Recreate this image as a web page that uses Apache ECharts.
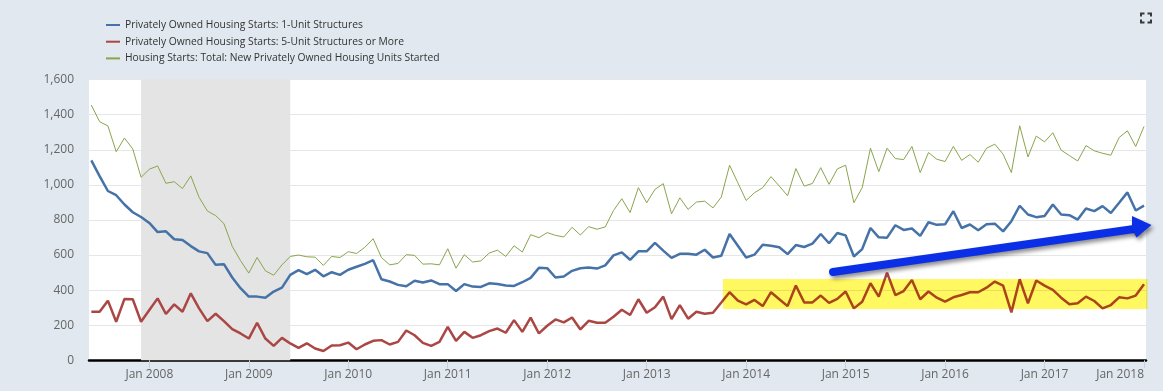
<!DOCTYPE html>
<html>
<head>
<meta charset="utf-8">
<script src="https://cdn.jsdelivr.net/npm/echarts@6/dist/echarts.min.js"></script>
<style>
html,body{margin:0;padding:0;background:#e1e8f0;}
#c{width:1163px;height:391px;}
</style>
</head>
<body>
<div id="c"></div>
<script>
// First observation: June 2007, monthly through January 2018 (thousands of units, SAAR)
const START_YEAR = 2007;
const START_MONTH = 6;

const SERIES_NAMES = [
  'Privately Owned Housing Starts: 1-Unit Structures',
  'Privately Owned Housing Starts: 5-Unit Structures or More',
  'Housing Starts: Total: New Privately Owned Housing Units Started'
];

const oneUnit = [
  1140,1050,965,941,888,844,817,783,731,735,690,686,651,621,611,544,548,472,411,
  363,363,357,392,414,487,514,491,516,479,502,487,516,533,550,571,462,449,
  430,422,453,443,455,434,434,395,434,420,418,439,435,426,424,445,470,527,
  525,472,478,510,525,529,523,541,598,615,573,621,621,669,625,584,607,607,
  602,630,586,596,720,653,586,602,659,653,644,605,657,646,665,720,667,726,
  712,592,634,754,701,699,770,743,751,709,787,772,775,850,754,774,741,775,
  779,735,793,881,831,816,823,888,831,827,802,865,850,879,840,898,957,854,882
];

const fivePlus = [
  277,277,340,220,350,348,220,287,353,264,319,277,382,296,223,265,223,178,153,
  124,214,124,82,128,96,71,97,67,53,84,86,101,63,90,111,115,90,
  105,170,143,99,82,105,191,111,162,128,143,166,181,157,229,162,243,153,
  197,233,216,244,176,225,214,214,248,288,258,348,271,302,363,235,315,237,
  277,265,271,329,388,340,319,344,309,388,348,309,426,330,330,369,327,350,
  392,296,334,439,363,500,372,395,458,348,392,357,334,359,372,388,388,414,
  449,426,273,462,325,455,426,401,357,319,325,363,338,296,315,359,353,369,434
];

const total = [
  1455,1360,1336,1189,1267,1205,1043,1089,1108,1009,1018,979,1051,929,851,825,779,650,568,
  497,586,510,485,544,592,600,590,588,541,592,586,619,609,644,693,586,544,
  552,602,598,548,550,544,636,525,602,560,567,611,628,592,653,617,716,699,
  728,712,703,758,714,762,747,760,854,921,842,984,898,974,1007,835,926,860,
  902,907,869,930,1112,1012,911,955,984,1047,993,938,1093,993,1008,1098,1003,1091,
  1112,898,984,1209,1075,1209,1150,1144,1219,1070,1184,1146,1133,1219,1140,1173,1129,1209,
  1232,1175,1070,1337,1159,1278,1245,1297,1198,1167,1136,1224,1194,1180,1169,1270,1308,1219,1333
];

const TICK_LABELS = ['Jan 2008','Jan 2009','Jan 2010','Jan 2011','Jan 2012','Jan 2013',
  'Jan 2014','Jan 2015','Jan 2016','Jan 2017','Jan 2018'];

const RECESSION = ['2007-12', '2009-06'];
// highlighted band (yellow box), in axis units: start month position and value range
const HIGHLIGHT = { fromMonth: 76.2, low: 292, high: 463 };

const COLORS = ['#4572A7', '#AA4643', '#89A54E'];

const months = oneUnit.map((_, i) => {
  const m = START_MONTH - 1 + i;
  return (START_YEAR + Math.floor(m / 12)) + '-' + String(m % 12 + 1).padStart(2, '0');
});
const idx = s => months.indexOf(s);
const tickIdx = TICK_LABELS.map(l => idx(l.slice(4) + '-01'));
const pairs = arr => arr.map((v, i) => [i, v]);

const X_MIN = -0.28, X_MAX = 127.24;

const chart = echarts.init(document.getElementById('c'), null, { renderer: 'canvas' });

const option = {
  backgroundColor: '#e1e8f0',
  animation: false,
  textStyle: { fontFamily: 'Open Sans' },
  color: COLORS,
  legend: {
    data: SERIES_NAMES,
    orient: 'vertical',
    left: 101,
    top: 12,
    itemWidth: 14,
    itemHeight: 2,
    itemGap: 0.7,
    icon: 'rect',
    selectedMode: false,
    textStyle: { fontSize: 10.3, color: '#333', lineHeight: 16, fontFamily: 'Open Sans' }
  },
  grid: {
    left: 89, right: 17, top: 79.6, bottom: 30.7,
    show: true, backgroundColor: '#ffffff', borderWidth: 0
  },
  xAxis: {
    type: 'value',
    min: X_MIN, max: X_MAX,
    splitLine: { show: false },
    axisLine: { lineStyle: { color: '#000', width: 2.5 } },
    axisTick: { customValues: tickIdx, length: 8, lineStyle: { color: '#c6d2df' } },
    axisLabel: {
      customValues: tickIdx,
      formatter: v => TICK_LABELS[tickIdx.indexOf(Math.round(v))],
      color: '#666', fontSize: 12, margin: 8,
      alignMaxLabel: 'right'
    }
  },
  yAxis: {
    type: 'value',
    min: 0, max: 1600, interval: 200,
    axisLine: { show: false },
    axisTick: { show: false },
    splitLine: { lineStyle: { color: '#e6e6e6', width: 1 } },
    axisLabel: {
      formatter: v => v.toLocaleString('en-US'),
      color: '#666', fontSize: 12, margin: 15
    }
  },
  series: [
    {
      type: 'line', z: 1, data: [], silent: true,
      markArea: {
        silent: true,
        itemStyle: { color: '#e4e4e4' },
        data: [[{ xAxis: idx(RECESSION[0]) }, { xAxis: idx(RECESSION[1]) }]]
      }
    },
    {
      name: SERIES_NAMES[0], type: 'line', showSymbol: false, z: 3,
      data: pairs(oneUnit), lineStyle: { width: 2.5, color: COLORS[0] }, itemStyle: { color: COLORS[0] }
    },
    {
      name: SERIES_NAMES[1], type: 'line', showSymbol: false, z: 3,
      data: pairs(fivePlus), lineStyle: { width: 2.5, color: COLORS[1] }, itemStyle: { color: COLORS[1] }
    },
    {
      name: SERIES_NAMES[2], type: 'line', showSymbol: false, z: 3,
      data: pairs(total), lineStyle: { width: 1, color: COLORS[2] }, itemStyle: { color: COLORS[2] }
    }
  ]
};
chart.setOption(option);

// annotations: yellow highlight box (data units) and blue arrow / fullscreen icon (decoration)
const p1 = chart.convertToPixel({ gridIndex: 0 }, [HIGHLIGHT.fromMonth, HIGHLIGHT.high]);
const p2 = chart.convertToPixel({ gridIndex: 0 }, [X_MAX, HIGHLIGHT.low]);
const ARROW_BLUE = '#0b2fe6';
const iconStyle = { stroke: '#3a3a3a', lineWidth: 2, fill: null };
chart.setOption({
  graphic: [
    {
      type: 'rect', z: 50, silent: true,
      shape: { x: p1[0], y: p1[1], width: p2[0] - p1[0] + 1.5, height: p2[1] - p1[1] },
      style: { fill: 'rgb(255,248,96)', blend: 'multiply' }
    },
    {
      type: 'line', z: 60, silent: true,
      shape: { x1: 833, y1: 272, x2: 1134, y2: 229 },
      style: { stroke: ARROW_BLUE, lineWidth: 8, lineCap: 'round',
        shadowBlur: 4, shadowColor: 'rgba(0,0,0,0.45)', shadowOffsetX: 2, shadowOffsetY: 3 }
    },
    {
      type: 'polygon', z: 60, silent: true,
      shape: { points: [[1132, 216], [1151.5, 225], [1136.5, 237.5], [1132, 229]] },
      style: { fill: ARROW_BLUE, shadowBlur: 4, shadowColor: 'rgba(0,0,0,0.45)', shadowOffsetX: 2, shadowOffsetY: 3 }
    },
    { type: 'polyline', z: 60, silent: true, shape: { points: [[1141, 16.5], [1141, 13.5], [1144.5, 13.5]] }, style: iconStyle },
    { type: 'polyline', z: 60, silent: true, shape: { points: [[1147.5, 13.5], [1151, 13.5], [1151, 16.5]] }, style: iconStyle },
    { type: 'polyline', z: 60, silent: true, shape: { points: [[1141, 19.5], [1141, 22.5], [1144.5, 22.5]] }, style: iconStyle },
    { type: 'polyline', z: 60, silent: true, shape: { points: [[1147.5, 22.5], [1151, 22.5], [1151, 19.5]] }, style: iconStyle }
  ]
});
</script>
</body>
</html>
